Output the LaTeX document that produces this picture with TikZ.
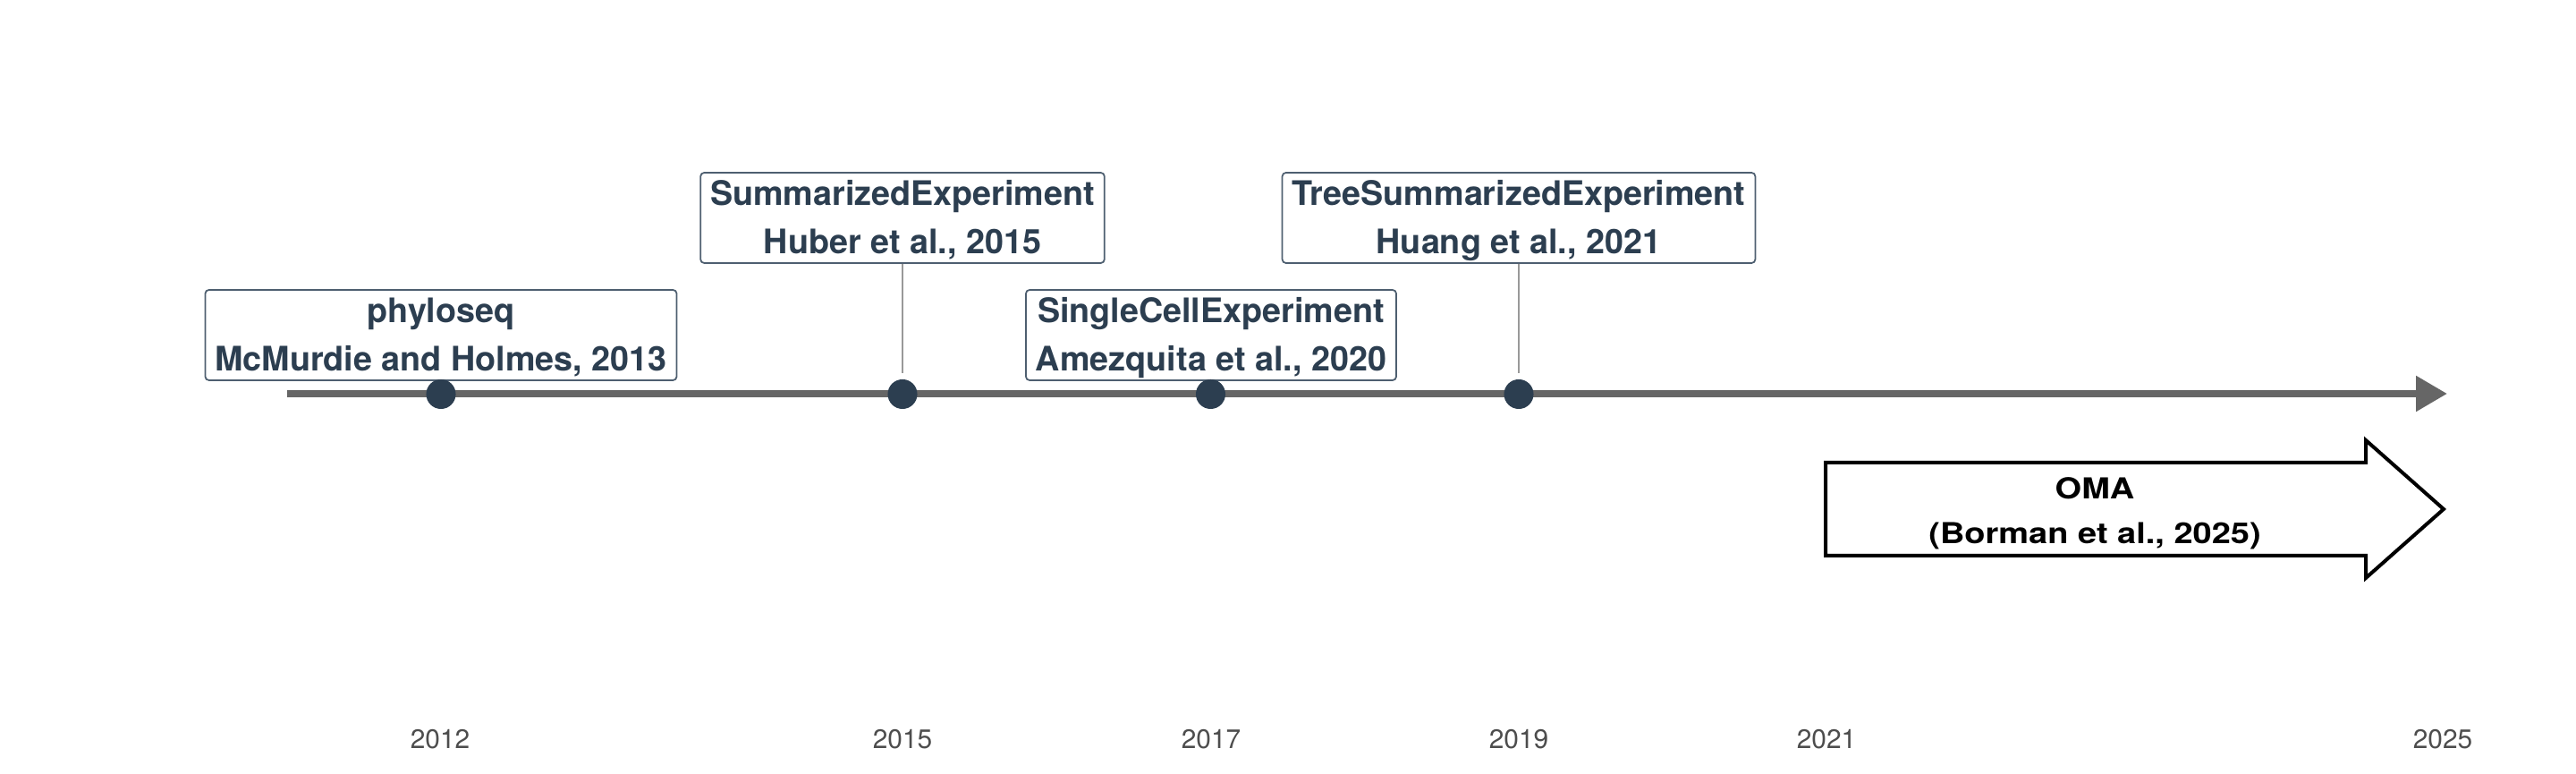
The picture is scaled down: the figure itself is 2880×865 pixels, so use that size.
\documentclass[tikz,border=0pt]{standalone}
\usepackage{fontspec}
\usepackage{graphicx}
\setmainfont{TeX Gyre Heros}
\usetikzlibrary{arrows.meta}
\definecolor{labtext}{HTML}{2C3E50}
\definecolor{labborder}{HTML}{4E5F70}
\definecolor{axisgray}{HTML}{666666}
\definecolor{conngray}{HTML}{999999}
\definecolor{yeargray}{HTML}{4D4D4D}
\newcommand{\tstrut}{\rule{0pt}{10.53pt}}
\newcommand{\bstrut}{\rule[-2.85pt]{0pt}{2.85pt}}
\tikzset{
  labbox/.style={draw=labborder, line width=0.5pt, rounded corners=1.2pt, fill=white,
    text=labtext, align=center, inner xsep=3.1pt, inner ysep=0pt,
    font=\fontsize{10.73}{15.36}\selectfont\bfseries},
  evdot/.style={circle, fill=labtext, minimum size=9.4pt, inner sep=0pt},
  conn/.style={draw=conngray, line width=0.7pt, shorten >=1.7pt},
  axisline/.style={draw=axisgray, line width=2.28pt, line join=round,
    -{Triangle[length=9.9pt,width=10.8pt]}},
  yearlab/.style={text=yeargray, anchor=base, inner sep=0pt, font=\fontsize{8.5}{10}\selectfont},
  omashape/.style={draw=black, line width=1.14pt, line join=miter, fill=white},
  omatext/.style={inner sep=0pt, text=black, font=\fontsize{10.8}{16.73}\selectfont\bfseries}
}
\begin{document}
\begin{tikzpicture}[x=0.01cm, y=-0.01cm]
\useasboundingbox (0,0) rectangle (2880,865);
% axis
\coordinate (axstart) at (321,440);
\coordinate (axend) at (2736,440);
\draw[axisline] (axstart) -- (axend);
% label boxes
\node[labbox] (b1) at (493,374.5) {\tstrut phyloseq\\McMurdie and Holmes, 2013\bstrut};
\node[labbox] (b2) at (1009,243.5) {\tstrut SummarizedExperiment\\Huber et al., 2015\bstrut};
\node[labbox] (b3) at (1354,374.5) {\tstrut SingleCellExperiment\\Amezquita et al., 2020\bstrut};
\node[labbox] (b4) at (1698,243.5) {\tstrut TreeSummarizedExperiment\\Huang et al., 2021\bstrut};
% dots
\node[evdot] (d1) at (493,440.5) {};
\node[evdot] (d2) at (1009,440.5) {};
\node[evdot] (d3) at (1353.5,440.5) {};
\node[evdot] (d4) at (1698,440.5) {};
% connectors
\draw[conn] (b2.south) -- (d2.north);
\draw[conn] (b4.south) -- (d4.north);
% OMA arrow
\coordinate (o1) at (2041,517);
\coordinate (o2) at (2645,517);
\coordinate (o3) at (2645,492);
\coordinate (o4) at (2732,569);
\coordinate (o5) at (2645,646);
\coordinate (o6) at (2645,621);
\coordinate (o7) at (2041,621);
\draw[omashape] (o1) -- (o2) -- (o3) -- (o4) -- (o5) -- (o6) -- (o7) -- cycle;
\node[omatext] (oma) at (2342,573) {\scalebox{1}[0.85]{\begin{tabular}{@{}c@{}}OMA\\(Borman et al., 2025)\end{tabular}}};
% years
\node[yearlab] (y2012) at (492,837) {2012};
\node[yearlab] (y2015) at (1009,837) {2015};
\node[yearlab] (y2017) at (1354,837) {2017};
\node[yearlab] (y2019) at (1698,837) {2019};
\node[yearlab] (y2021) at (2042,837) {2021};
\node[yearlab] (y2025) at (2731,837) {2025};
\end{tikzpicture}
\end{document}
